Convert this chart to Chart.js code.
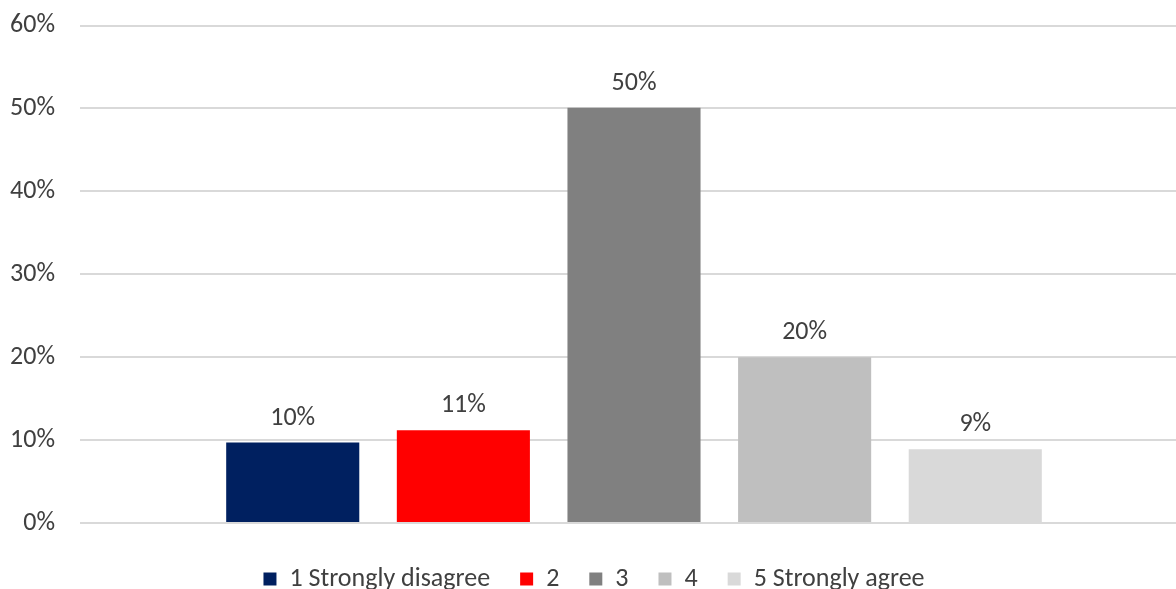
<!DOCTYPE html>
<html>
<head>
<meta charset="utf-8">
<script src="https://cdn.jsdelivr.net/npm/chart.js@4/dist/chart.umd.min.js"></script>
<style>
  html, body { margin: 0; padding: 0; background: #fff; overflow: hidden; }
  #wrap { width: 1176px; height: 589px; overflow: hidden; position: relative; }
  #box { width: 1190px; height: 617px; position: absolute; left: 0; top: -15px; }
</style>
</head>
<body>
<div id="wrap"><div id="box"><canvas id="c"></canvas></div></div>
<script>
// Survey response shares (percent of respondents)
const categories = ['Responses'];
const seriesNames = ['1 Strongly disagree', '2', '3', '4', '5 Strongly agree'];
const seriesValues = [9.7, 11.2, 50.1, 20.0, 8.9];
const seriesColors = ['#002060', '#FF0000', '#808080', '#BFBFBF', '#D9D9D9'];
const yTicks = [0, 10, 20, 30, 40, 50, 60];

const FONT = 'Carlito, Lato, "Open Sans", sans-serif';
const TEXT = '#404040';
const SIZE = 26;

// Draws the rounded percentage above each bar
const valueLabels = {
  id: 'valueLabels',
  afterDatasetsDraw(chart) {
    const ctx = chart.ctx;
    ctx.save();
    ctx.font = SIZE + 'px ' + FONT;
    ctx.fillStyle = TEXT;
    ctx.textAlign = 'center';
    ctx.textBaseline = 'alphabetic';
    chart.data.datasets.forEach((ds, i) => {
      const meta = chart.getDatasetMeta(i);
      meta.data.forEach((bar, j) => {
        ctx.fillText(Math.round(ds.data[j]) + '%', bar.x, bar.y - 18);
      });
    });
    ctx.restore();
  }
};

new Chart(document.getElementById('c'), {
  type: 'bar',
  data: {
    labels: categories,
    datasets: seriesNames.map((name, i) => ({
      label: name,
      data: [seriesValues[i]],
      backgroundColor: seriesColors[i],
      borderWidth: 0,
      categoryPercentage: 0.77,
      barPercentage: 0.78
    }))
  },
  options: {
    responsive: true,
    maintainAspectRatio: false,
    animation: false,
    layout: { padding: { top: 2, right: 2, left: 0, bottom: 0 } },
    plugins: {
      legend: {
        position: 'bottom',
        labels: {
          font: { family: FONT, size: SIZE },
          color: TEXT,
          boxWidth: 13,
          boxHeight: 13,
          padding: 30
        }
      },
      tooltip: { enabled: false }
    },
    scales: {
      x: {
        display: true,
        afterFit(scale) { scale.height = 13; },
        grid: { display: false },
        border: { display: false },
        ticks: { display: false }
      },
      y: {
        min: 0,
        max: 60,
        afterBuildTicks(scale) { scale.ticks = yTicks.map(v => ({ value: v })); },
        afterFit(scale) { scale.width = 80; },
        border: { display: false },
        grid: { color: '#D9D9D9', lineWidth: 2, drawTicks: false },
        ticks: {
          padding: 25,
          color: TEXT,
          font: { family: FONT, size: SIZE },
          callback: v => v + '%'
        }
      }
    }
  },
  plugins: [valueLabels]
});
</script>
</body>
</html>
